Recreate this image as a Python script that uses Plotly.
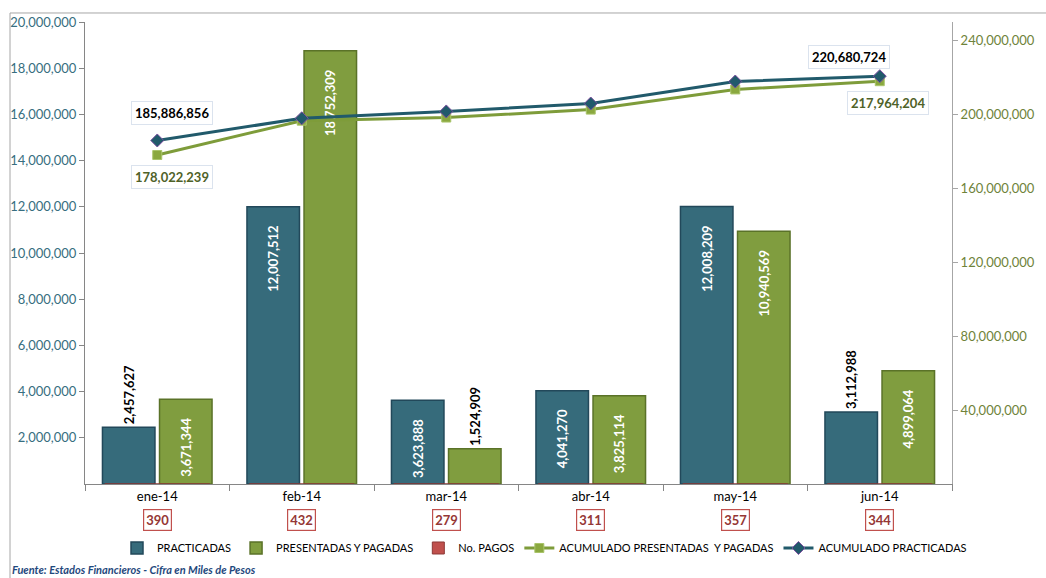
import plotly.graph_objects as go

meses = ['ene-14', 'feb-14', 'mar-14', 'abr-14', 'may-14', 'jun-14']
practicadas = [2457627, 12007512, 3623888, 4041270, 12008209, 3112988]
presentadas = [3671344, 18752309, 1524909, 3825114, 10940569, 4899064]
no_pagos = [390, 432, 279, 311, 357, 344]
acum_practicadas = [185886856, 197900000, 201600000, 205900000, 217800000, 220680724]
acum_presentadas = [178022239, 196600000, 198300000, 202600000, 213500000, 217964204]

FONT = 'Lato'
TEAL = '#366b7b'
GREEN = '#809d3f'
PAD = '\u00a0' * 5  # separa un poco la etiqueta del borde superior de la barra


def etiquetas(valores, posiciones):
    return [f'{v:,}' + (PAD if p == 'inside' else '') for v, p in zip(valores, posiciones)]


pos_pract = ['outside', 'inside', 'inside', 'inside', 'inside', 'outside']
pos_pres = ['inside', 'inside', 'outside', 'inside', 'inside', 'inside']

fig = go.Figure()

fig.add_trace(
    go.Bar(
        name='PRACTICADAS',
        x=meses,
        y=practicadas,
        text=etiquetas(practicadas, pos_pract),
        textposition=pos_pract,
        textangle=-90,
        insidetextanchor='end',
        constraintext='none',
        insidetextfont=dict(color='white', size=13, family=FONT, weight='bold'),
        outsidetextfont=dict(color='black', size=13, family=FONT, weight='bold'),
        cliponaxis=False,
        marker=dict(color=TEAL, line=dict(color='#22485a', width=1.5)),
    )
)

fig.add_trace(
    go.Bar(
        name='PRESENTADAS Y PAGADAS',
        x=meses,
        y=presentadas,
        text=etiquetas(presentadas, pos_pres),
        textposition=pos_pres,
        textangle=-90,
        insidetextanchor='end',
        constraintext='none',
        insidetextfont=dict(color='white', size=13, family=FONT, weight='bold'),
        outsidetextfont=dict(color='black', size=13, family=FONT, weight='bold'),
        cliponaxis=False,
        marker=dict(color=GREEN, line=dict(color='#5a7228', width=1.5)),
    )
)

# No. PAGOS: solo en la leyenda, los valores van en cajas bajo el eje
fig.add_trace(
    go.Bar(
        name='No. PAGOS',
        x=meses,
        y=no_pagos,
        yaxis='y3',
        marker=dict(color='#c0504d', line=dict(color='#8c3836', width=1)),
        hoverinfo='skip',
    )
)

fig.add_trace(
    go.Scatter(
        name='ACUMULADO PRESENTADAS  Y PAGADAS',
        x=meses,
        y=acum_presentadas,
        yaxis='y2',
        mode='lines+markers',
        line=dict(color='#7e9c3a', width=3),
        marker=dict(symbol='square', size=9, color='#8aa83f',
                    line=dict(color='#a9c46a', width=1)),
    )
)

fig.add_trace(
    go.Scatter(
        name='ACUMULADO PRACTICADAS',
        x=meses,
        y=acum_practicadas,
        yaxis='y2',
        mode='lines+markers',
        line=dict(color='#215a6b', width=3),
        marker=dict(symbol='diamond', size=10, color='#215a6b',
                    line=dict(color='#7b4fa0', width=1)),
    )
)

# etiquetas de los acumulados (primer y ultimo punto)
anots = []
for i, ax, ay in [(0, 15, -27), (5, -31, -19)]:
    anots.append(dict(
        x=meses[i], y=acum_practicadas[i], xref='x', yref='y2',
        text=f'<b>{acum_practicadas[i]:,}</b>', showarrow=True, arrowcolor='rgba(0,0,0,0)',
        ax=ax, ay=ay, font=dict(family=FONT, size=13, color='black'),
        bgcolor='white', bordercolor='#dbe3ee', borderwidth=1, borderpad=3,
    ))
for i, ax, ay in [(0, 15, 22), (5, 8, 22)]:
    anots.append(dict(
        x=meses[i], y=acum_presentadas[i], xref='x', yref='y2',
        text=f'<b>{acum_presentadas[i]:,}</b>', showarrow=True, arrowcolor='rgba(0,0,0,0)',
        ax=ax, ay=ay, font=dict(family=FONT, size=13, color='#4f6228'),
        bgcolor='white', bordercolor='#dbe3ee', borderwidth=1, borderpad=3,
    ))

for mes, n in zip(meses, no_pagos):
    anots.append(dict(
        x=mes, y=-0.078, xref='x', yref='paper', yanchor='middle',
        text=f'<b>{n}</b>', showarrow=False,
        font=dict(family=FONT, size=13, color='#953735'),
        bgcolor='white', bordercolor='#c0504d', borderwidth=1.2, borderpad=2,
    ))

anots.append(dict(
    x=-0.0865, y=-0.186, xref='paper', yref='paper', xanchor='left', yanchor='middle',
    text='<b><i>Fuente: Estados Financieros - Cifra en Miles de Pesos</i></b>',
    showarrow=False, font=dict(family=FONT, size=11, color='#1f497d'),
))

fig.update_layout(
    width=1046,
    height=578,
    margin=dict(l=85, r=94, t=22, b=94, autoexpand=False),
    plot_bgcolor='white',
    paper_bgcolor='white',
    barmode='group',
    bargap=0.21,
    bargroupgap=0.08,
    font=dict(family=FONT, size=12, color='black'),
    annotations=anots,
    legend=dict(
        orientation='h',
        x=0.53, xanchor='center',
        y=-0.1385, yanchor='middle',
        font=dict(family=FONT, size=11, color='black'),
        itemwidth=30,
        tracegroupgap=0,
    ),
    xaxis=dict(
        showline=True, linecolor='#868686', linewidth=1,
        ticks='outside', tickson='boundaries', ticklen=6, tickcolor='#868686',
        tickfont=dict(family=FONT, size=13, color='black'),
        showgrid=False,
    ),
    yaxis=dict(
        range=[0, 20000000],
        tickvals=[2000000 * k for k in range(1, 11)],
        tickformat=',',
        showline=True, linecolor='#868686', linewidth=1,
        ticks='outside', ticklen=5, tickcolor='#868686',
        tickfont=dict(family=FONT, size=13, color='#376e80'),
        showgrid=False, zeroline=False,
    ),
    yaxis2=dict(
        overlaying='y', side='right',
        range=[0, 250000000],
        tickvals=[40000000 * k for k in range(1, 7)],
        tickformat=',',
        showline=True, linecolor='#a6a6a6', linewidth=1,
        ticks='outside', ticklen=5, tickcolor='#a6a6a6',
        tickfont=dict(family=FONT, size=13, color='#6f833a'),
        showgrid=False, zeroline=False,
    ),
    yaxis3=dict(
        overlaying='y', range=[0, 1e9], visible=False,
    ),
    shapes=[
        dict(type='line', xref='paper', yref='paper', x0=-0.0865, x1=1.2, y0=1.0195, y1=1.0195,
             line=dict(color='#a6a6a6', width=1)),
        dict(type='line', xref='paper', yref='paper', x0=-0.0865, x1=-0.0865, y0=1.0195, y1=-0.25,
             line=dict(color='#a6a6a6', width=1)),
    ],
)

fig.write_html('out.html', config={'displayModeBar': False},
               post_script="document.body.style.margin='0px';")
